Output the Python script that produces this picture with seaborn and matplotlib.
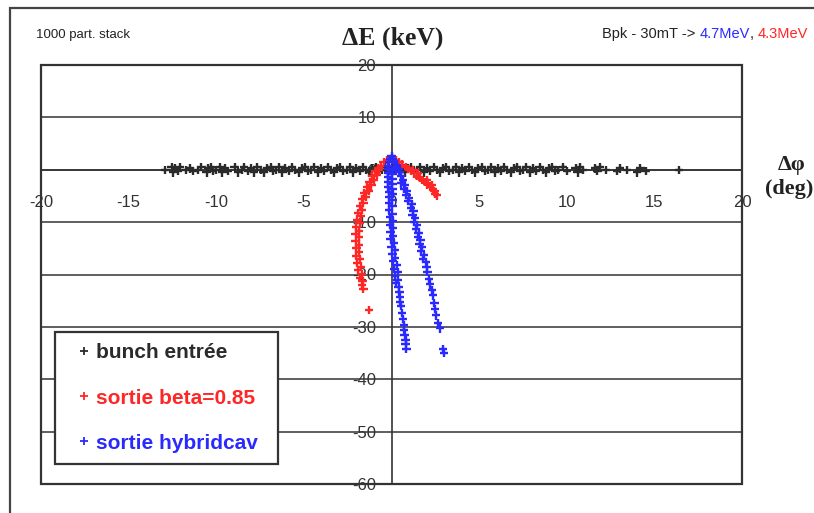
import matplotlib
matplotlib.use("Agg")
import matplotlib.pyplot as plt
from matplotlib.patches import Rectangle
from matplotlib.lines import Line2D
import seaborn as sns
import pandas as pd

# ---------------- data ----------------
series_names = ["bunch entrée", "sortie beta=0.85", "sortie hybridcav"]
series_colors = ["#2b2b2b", "#ff2626", "#2a2aff"]

black_points = [
    (-12.9, 0.0), (-12.55, 0.5), (-12.45, -0.5), (-12.35, 0.25), (-12.2, -0.25), (-12.05, 0.5),
    (-11.7, 0.0), (-11.5, 0.25), (-11.3, -0.25), (-11.05, 0.0), (-10.85, 0.5),
    (-10.55, -0.5), (-10.45, 0.25), (-10.3, 0.5), (-10.2, -0.25), (-10.0, 0.0),
    (-9.8, 0.5), (-9.65, -0.5), (-9.5, 0.25), (-9.35, -0.25),
    (-8.95, 0.5), (-8.75, -0.5), (-8.55, 0.0), (-8.4, 0.5), (-8.2, -0.25), (-8.0, 0.25),
    (-7.85, -0.5), (-7.65, 0.5), (-7.45, 0.0), (-7.3, -0.5), (-7.1, 0.25), (-6.9, 0.5),
    (-6.75, -0.25), (-6.6, 0.0),
    (-6.4, 0.5), (-6.22, -0.5), (-6.05, 0.25), (-5.85, -0.25), (-5.68, 0.5), (-5.5, 0.0),
    (-5.3, -0.5), (-5.12, 0.25), (-4.95, 0.5), (-4.75, -0.25), (-4.58, 0.0), (-4.4, 0.5),
    (-4.2, -0.5), (-4.02, 0.25), (-3.85, -0.25), (-3.65, 0.5), (-3.48, 0.0), (-3.3, -0.5),
    (-3.1, 0.25), (-2.92, 0.5), (-2.75, -0.25), (-2.55, 0.0), (-2.38, 0.5), (-2.2, -0.5),
    (-2.0, 0.25), (-1.82, -0.25), (-1.65, 0.5), (-1.45, 0.0), (-1.28, -0.5), (-1.1, 0.25),
    (-0.9, 0.5), (-0.72, -0.25), (-0.55, 0.0), (-0.35, 0.5), (-0.18, -0.5), (0.0, 0.25),
    (0.2, -0.25), (0.38, 0.5), (0.55, 0.0), (0.75, -0.5), (0.92, 0.25), (1.1, 0.5),
    (1.3, -0.25), (1.48, 0.0), (1.65, 0.5), (1.85, -0.5), (2.02, 0.25), (2.2, -0.25),
    (2.4, 0.5), (2.58, 0.0), (2.75, -0.5), (2.95, 0.25), (3.12, 0.5), (3.3, -0.25),
    (3.5, 0.0), (3.68, 0.5), (3.85, -0.5), (4.05, 0.25), (4.22, -0.25), (4.4, 0.5),
    (4.6, 0.0), (4.78, -0.5), (4.95, 0.25), (5.15, 0.5), (5.32, -0.25), (5.5, 0.0),
    (5.7, 0.5), (5.88, -0.5), (6.05, 0.25), (6.25, -0.25), (6.42, 0.5), (6.6, 0.0),
    (6.8, -0.5), (6.98, 0.25), (7.15, 0.5), (7.35, -0.25), (7.52, 0.0), (7.7, 0.5),
    (7.9, -0.5), (8.08, 0.25), (8.25, -0.25), (8.45, 0.5), (8.62, 0.0), (8.8, -0.5),
    (9.0, 0.25), (9.18, 0.5), (9.35, -0.25), (9.5, 0.0),
    (9.8, 0.5), (10.0, -0.25), (10.5, 0.25), (10.62, -0.5), (10.75, 0.5), (10.9, 0.0),
    (11.6, 0.25), (11.75, -0.25), (11.9, 0.5), (12.25, 0.0), (12.85, -0.25), (13.05, 0.25),
    (13.45, 0.0), (14.0, -0.5), (14.2, 0.25), (14.5, -0.25), (16.4, 0.0),
]

red_points = [
    (0.0, 2.2), (-0.25, 1.9), (0.25, 1.9), (-0.45, 1.4), (0.45, 1.5), (-0.6, 0.8), (-0.75, 0.3),
    (-0.7, 0.0), (-0.95, -0.2), (-0.85, -1.0), (-1.1, -1.2), (-1.0, -2.0), (-1.25, -2.3),
    (-1.15, -3.0), (-1.4, -3.3), (-1.3, -4.0), (-1.55, -4.4), (-1.45, -5.2), (-1.7, -5.6),
    (-1.6, -6.4), (-1.8, -6.9), (-1.7, -7.6), (-1.9, -8.2), (-1.75, -8.9), (-1.95, -9.5),
    (-1.8, -10.2), (-2.0, -10.9), (-1.85, -11.6), (-2.05, -12.2), (-1.85, -12.9), (-2.05, -13.6),
    (-1.85, -14.3), (-2.0, -15.0), (-1.85, -15.7), (-2.0, -16.4), (-1.8, -17.1), (-1.95, -17.8),
    (-1.75, -18.5), (-1.9, -19.2), (-1.7, -19.9), (-1.8, -20.6), (-1.65, -21.3), (-1.7, -22.0),
    (-1.6, -22.7), (-1.3, -26.8),
    (0.6, 1.0), (0.8, 0.5), (0.95, 0.1), (1.1, -0.3), (1.3, -0.7), (1.2, 0.0), (1.45, -1.1),
    (1.6, -1.5), (1.5, -0.6), (1.75, -1.9), (1.9, -2.3), (2.0, -2.0), (2.05, -2.8), (2.2, -3.2),
    (2.3, -2.9), (2.35, -3.7), (2.45, -4.1), (2.5, -4.6), (2.6, -4.9),
]

blue_points = [
    (0.0, 2.6), (-0.1, 2.0), (0.1, 2.0), (-0.15, 1.4), (0.15, 1.4), (0.3, 1.0), (-0.2, 0.8),
    (0.2, 0.6), (-0.2, 0.1), (0.1, 0.0), (0.4, 0.2),
    (-0.2, -0.6), (0.05, -0.8), (-0.2, -1.4), (0.05, -1.7), (-0.2, -2.3), (0.05, -2.7),
    (-0.2, -3.2), (0.05, -3.6), (-0.15, -4.2), (0.1, -4.6), (-0.15, -5.2), (0.05, -5.8),
    (-0.15, -6.4), (0.05, -7.0), (-0.15, -7.7), (0.05, -8.4), (-0.1, -9.1), (0.1, -9.8),
    (-0.1, -10.5), (0.1, -11.2), (-0.05, -11.9), (0.1, -12.6), (-0.05, -13.3), (0.15, -14.0),
    (0.0, -14.7), (0.2, -15.4), (0.05, -16.1), (0.2, -16.8), (0.1, -17.5), (0.3, -18.2),
    (0.15, -18.9), (0.35, -19.6), (0.2, -20.3), (0.35, -21.0), (0.25, -21.7), (0.4, -22.4),
    (0.45, -23.3), (0.5, -24.3), (0.5, -25.2), (0.55, -26.0), (0.6, -27.3), (0.65, -28.5),
    (0.7, -29.6), (0.7, -30.6), (0.75, -31.5), (0.8, -32.5), (0.8, -33.3), (0.85, -34.2),
    (0.45, -0.5), (0.55, -1.2), (0.65, -2.0), (0.55, -2.6), (0.75, -2.9), (0.7, -3.6),
    (0.9, -4.0), (0.85, -4.8), (1.0, -5.3), (0.95, -6.0), (1.15, -6.5), (1.1, -7.3),
    (1.25, -7.8), (1.2, -8.6), (1.35, -9.2), (1.3, -10.0), (1.45, -10.6), (1.4, -11.4),
    (1.55, -12.0), (1.5, -12.8), (1.65, -13.4), (1.6, -14.2), (1.75, -14.8), (1.7, -15.6),
    (1.85, -16.3), (1.8, -17.0), (1.95, -17.7), (2.0, -18.5), (2.05, -19.5), (2.15, -20.8),
    (2.2, -21.9), (2.3, -23.0), (2.35, -24.0), (2.45, -25.5), (2.5, -26.6), (2.55, -27.8),
    (2.65, -29.2), (2.75, -30.3), (2.95, -34.2), (3.0, -35.0),
]

x_ticks = [-20, -15, -10, -5, 0, 5, 10, 15, 20]
y_ticks = [-60, -50, -40, -30, -20, -10, 0, 10, 20]

# ---------------- frame ----------------
rows = []
for name, pts in zip(series_names, [black_points, red_points, blue_points]):
    for x, y in pts:
        rows.append({"dphi": x, "dE": y, "serie": name})
df = pd.DataFrame(rows)

sns.set_theme(style="white")
plt.rcParams["font.family"] = ["Liberation Sans", "DejaVu Sans"]
plt.rcParams["axes.unicode_minus"] = False

W, H = 814, 513
fig = plt.figure(figsize=(W / 100, H / 100), dpi=100)
fig.patch.set_facecolor("white")
ax = fig.add_axes([41 / W, (H - 484) / H, 701 / W, 419 / H])
ax.set_facecolor("white")

sns.scatterplot(data=df, x="dphi", y="dE", hue="serie", hue_order=series_names,
                palette=series_colors, marker="+", s=36, linewidth=1.7,
                legend=False, ax=ax, zorder=3)

ax.set_xlim(-20, 20)
ax.set_ylim(-60, 20)
ax.set_xticks(x_ticks)
ax.set_yticks(y_ticks)
ax.set_xlabel("")
ax.set_ylabel("")

ax.yaxis.grid(True, color="#333333", lw=1.1)
ax.xaxis.grid(False)
ax.set_axisbelow(True)

for s in ["top", "right"]:
    ax.spines[s].set_visible(False)
ax.spines["bottom"].set_position(("data", 0))
ax.spines["left"].set_position(("data", 0))
for s in ["bottom", "left"]:
    ax.spines[s].set_color("#333333")
    ax.spines[s].set_linewidth(1.2)
ax.add_patch(Rectangle((0, 0), 1, 1, transform=ax.transAxes, fill=False,
                       ec="#333333", lw=1.6, zorder=4, clip_on=False))

ax.tick_params(axis="x", direction="out", length=5, width=1, color="#333333",
               pad=13, labelsize=12, labelcolor="#333333")
ax.tick_params(axis="y", direction="out", length=4, width=1, color="#333333",
               pad=7, labelsize=12, labelcolor="#333333")

# legend
handles = [Line2D([], [], marker="+", ls="none", color=c, markersize=6, mew=1.3)
           for c in series_colors]
leg = ax.legend(handles, series_names, loc="lower left",
                bbox_to_anchor=(14 / 701, 20 / 419, 223 / 701, 0.3), mode="expand",
                borderaxespad=0, fancybox=False, frameon=True, edgecolor="#333333",
                framealpha=1, prop={"family": "Liberation Sans", "weight": "bold", "size": 15},
                labelspacing=1.25, borderpad=0.55, handlelength=1.7, handletextpad=-0.3)
leg.get_frame().set_linewidth(1.6)
leg.set_zorder(5)
for t, c in zip(leg.get_texts(), series_colors):
    t.set_color(c)

# figure texts
def px(x, y):
    return x / W, 1 - y / H

fig.text(*px(393, 38), "ΔE (keV)", ha="center", va="center",
         family="Liberation Serif", weight="bold", size=18.5, color="#222222")
fig.text(*px(792, 165), "Δφ", ha="center", va="center",
         family="Liberation Serif", weight="bold", size=16, color="#222222")
fig.text(*px(789, 189), "(deg)", ha="center", va="center",
         family="Liberation Serif", weight="bold", size=16, color="#222222")
fig.text(*px(36, 35), "1000 part. stack", ha="left", va="center", size=9.5, color="#222222")

fs_top = 10.5
t1 = fig.text(*px(602, 34), "Bpk - 30mT -> ", ha="left", va="center", size=fs_top, color="#222222")
fig.canvas.draw()
r = fig.canvas.get_renderer()
bb = t1.get_window_extent(r)
t2 = fig.text(bb.x1 / W, 1 - 34 / H, "4.7MeV", ha="left", va="center", size=fs_top, color="#2a2aff")
bb = t2.get_window_extent(r)
t3 = fig.text(bb.x1 / W, 1 - 34 / H, ", ", ha="left", va="center", size=fs_top, color="#222222")
bb = t3.get_window_extent(r)
fig.text(bb.x1 / W, 1 - 34 / H, "4.3MeV", ha="left", va="center", size=fs_top, color="#ff2626")

# outer chart border
fig.patches.append(Rectangle((10 / W, -0.1), 1.2, (H - 8) / H + 0.1, transform=fig.transFigure,
                             fill=False, ec="#444444", lw=1.6))

fig.savefig("out.png", dpi=100)
